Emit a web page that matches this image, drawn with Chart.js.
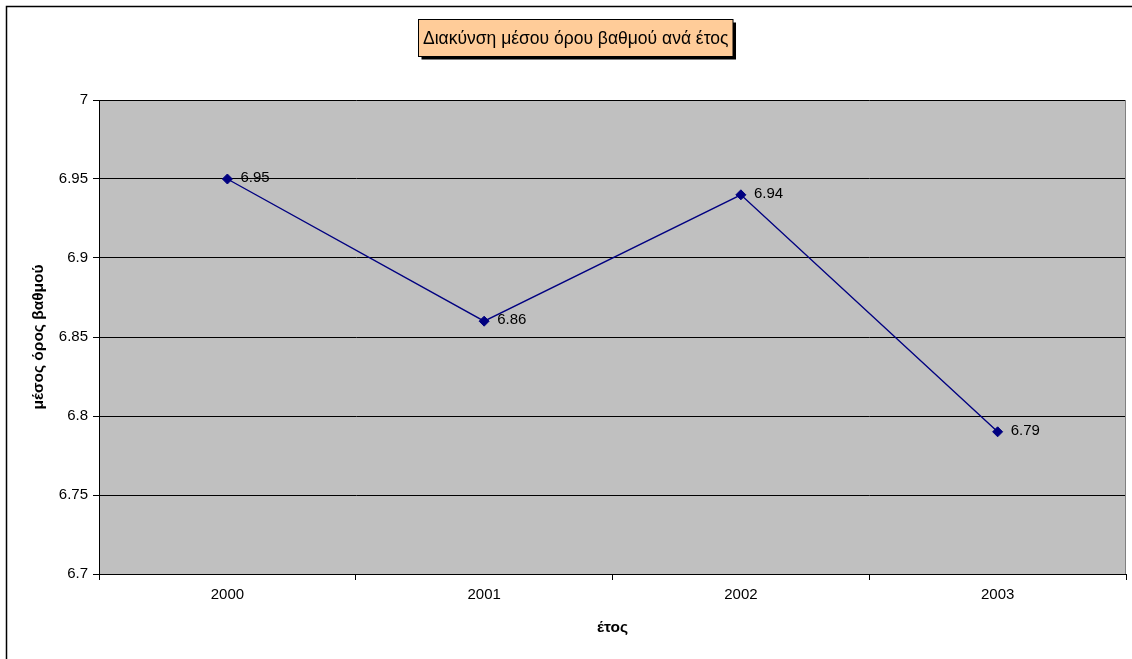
<!DOCTYPE html>
<html lang="el">
<head>
  <meta charset="UTF-8">
  <title>Διακύνση μέσου όρου βαθμού ανά έτος</title>
  <script src="https://cdn.jsdelivr.net/npm/chart.js"></script>
  <style>
    html, body { margin: 0; padding: 0; background: #fff; }
    #wrap { width: 1132px; height: 659px; position: relative; }
  </style>
</head>
<body>
  <div id="wrap">
    <canvas id="gradeChart" width="1132" height="659"></canvas>
  </div>
  <script>
    // chart data
    const TITLE = 'Διακύνση μέσου όρου βαθμού ανά έτος';
    const YEARS = ['2000', '2001', '2002', '2003'];
    const AVG_GRADE = [6.95, 6.86, 6.94, 6.79];
    const Y_TICKS = [6.7, 6.75, 6.8, 6.85, 6.9, 6.95, 7];
    const X_TITLE = 'έτος';
    const Y_TITLE = 'μέσος όρος βαθμού';

    const FONT = '"Liberation Sans", Arial, sans-serif';

    // grey plot area, outer frame and the boxed title
    const frame = {
      id: 'frame',
      beforeDraw(chart) {
        const ctx = chart.ctx;
        const a = chart.chartArea;
        ctx.save();
        ctx.fillStyle = '#c0c0c0';
        ctx.fillRect(a.left, a.top, a.right - a.left, a.bottom - a.top);
        // outer chart border (right/bottom run off the page)
        ctx.strokeStyle = '#000';
        ctx.lineWidth = 1.5;
        ctx.strokeRect(6.5, 6.5, chart.width + 20, chart.height + 20);
        // title box
        ctx.font = '17.5px ' + FONT;
        const w = ctx.measureText(TITLE).width + 9;
        const h = 37;
        const x = Math.round(575 - w / 2) + 0.5, y = 19.5;
        ctx.fillStyle = '#000';
        ctx.fillRect(x + 3, y + 3, w, h);
        ctx.fillStyle = '#ffcc99';
        ctx.fillRect(x, y, w, h);
        ctx.lineWidth = 1;
        ctx.strokeRect(x, y, w, h);
        ctx.fillStyle = '#000';
        ctx.textAlign = 'center';
        ctx.textBaseline = 'middle';
        ctx.fillText(TITLE, x + w / 2, y + h / 2 + 1);
        ctx.restore();
      },
      afterDraw(chart) {
        const ctx = chart.ctx;
        const a = chart.chartArea;
        ctx.save();
        ctx.strokeStyle = '#808080';
        ctx.lineWidth = 1;
        ctx.beginPath();
        ctx.moveTo(Math.round(a.right) - 0.5, a.top);
        ctx.lineTo(Math.round(a.right) - 0.5, a.bottom);
        ctx.stroke();
        ctx.restore();
      }
    };

    // value labels to the right of each point
    const valueLabels = {
      id: 'valueLabels',
      afterDatasetsDraw(chart) {
        const ctx = chart.ctx;
        const meta = chart.getDatasetMeta(0);
        ctx.save();
        ctx.font = '15px ' + FONT;
        ctx.fillStyle = '#000';
        ctx.textAlign = 'left';
        ctx.textBaseline = 'middle';
        meta.data.forEach((pt, i) => {
          ctx.fillText(String(AVG_GRADE[i]), pt.x + 13, pt.y - 1);
        });
        ctx.restore();
      }
    };

    const ctx = document.getElementById('gradeChart').getContext('2d');
    new Chart(ctx, {
      type: 'line',
      data: {
        labels: YEARS,
        datasets: [{
          data: AVG_GRADE,
          borderColor: '#000080',
          borderWidth: 1.4,
          backgroundColor: '#000080',
          pointStyle: 'rectRot',
          pointRadius: 5,
          pointBorderWidth: 1,
          pointBorderColor: '#000080',
          pointBackgroundColor: '#000080',
          tension: 0,
          fill: false
        }]
      },
      options: {
        responsive: false,
        animation: false,
        devicePixelRatio: 1,
        layout: { padding: { left: 0, right: 3, top: 100, bottom: 0 } },
        plugins: {
          legend: { display: false },
          title: { display: false },
          tooltip: { enabled: false }
        },
        scales: {
          x: {
            type: 'category',
            offset: true,
            grid: {
              offset: true,
              drawOnChartArea: false,
              drawTicks: true,
              tickLength: 6,
              color: '#000'
            },
            border: { color: '#000', width: 1 },
            ticks: { color: '#000', padding: 6, font: { family: FONT, size: 15 } },
            title: {
              display: true,
              text: X_TITLE,
              color: '#000',
              font: { family: FONT, size: 15.5, weight: 'bold' },
              padding: { top: 0, bottom: 22 }
            },
            afterFit(scale) { scale.height = 85; }
          },
          y: {
            min: 6.7,
            max: 7,
            afterBuildTicks(scale) {
              scale.ticks = Y_TICKS.map(v => ({ value: v }));
            },
            grid: {
              color: '#000',
              lineWidth: 1,
              drawTicks: true,
              tickLength: 6
            },
            border: { color: '#000', width: 1 },
            ticks: {
              color: '#000',
              padding: 5,
              font: { family: FONT, size: 15 },
              callback: v => String(Number(v.toFixed(2)))
            },
            title: {
              display: true,
              text: Y_TITLE,
              color: '#000',
              font: { family: FONT, size: 15.5, weight: 'bold' },
              padding: { top: 29, bottom: 0 }
            },
            afterFit(scale) { scale.width = 99; }
          }
        }
      },
      plugins: [frame, valueLabels]
    });
  </script>
</body>
</html>
